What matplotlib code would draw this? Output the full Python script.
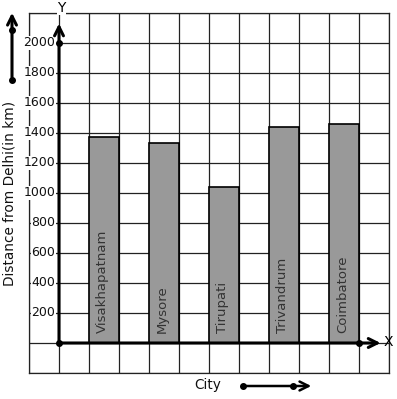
import numpy as np
import matplotlib
matplotlib.use("Agg")
import matplotlib.pyplot as plt

# data
cities = ["Visakhapatnam", "Mysore", "Tirupati", "Trivandrum", "Coimbatore"]
distances = [1370, 1330, 1040, 1440, 1460]
bar_pos = [1.5, 3.5, 5.5, 7.5, 9.5]
ytick_vals = [200, 400, 600, 800, 1000, 1200, 1400, 1600, 1800, 2000]

W, H = 397, 399
fig = plt.figure(figsize=(W / 100, H / 100), dpi=100)
ax = fig.add_axes([29 / W, 26 / H, 360 / W, 360 / H])
ax.set_xlim(-1, 11)
ax.set_ylim(-200, 2200)

grid_col = "#222222"
# square grid
for x in range(-1, 12):
    ax.axvline(x, color=grid_col, lw=0.9, zorder=1)
for y in range(-200, 2201, 200):
    ax.axhline(y, color=grid_col, lw=0.9, zorder=1)
for s in ax.spines.values():
    s.set_color(grid_col)
    s.set_linewidth(0.9)

ax.set_xticks([])
ax.set_yticks([])

# bars
ax.bar(bar_pos, distances, width=1.0, color="#999999", edgecolor="black",
       linewidth=1.2, zorder=3)
for x, name in zip(bar_pos, cities):
    ax.text(x - 0.05, 65, name, rotation=90, ha="center", va="bottom",
            fontsize=9.5, color="#333333", zorder=4)

# y tick labels with white background over the grid
for v in ytick_vals:
    ax.text(-0.12, v, str(v), ha="right", va="center", fontsize=9,
            color="#111111", zorder=4,
            bbox=dict(facecolor="white", edgecolor="none", pad=0.3))

# axes with arrows
arrow = dict(arrowstyle="->", lw=2.2, color="black", mutation_scale=16,
             shrinkA=0, shrinkB=0)
ax.annotate("", xy=(0, 2130), xytext=(0, 0), arrowprops=arrow, zorder=5)
ax.annotate("", xy=(10.72, 0), xytext=(0, 0), arrowprops=arrow, zorder=5)
ax.plot([0, 0, 10], [0, 2000, 0], "o", color="black", ms=4, zorder=6,
        clip_on=False)
ax.text(0.08, 2235, "Y", ha="center", va="center", fontsize=10, zorder=6,
        bbox=dict(facecolor="white", edgecolor="none", pad=0.5))
ax.text(10.97, 5, "X", ha="center", va="center", fontsize=10, zorder=6)

# y label and decorative arrow on the left
fig.text(10 / W, 1 - 193 / H, "Distance from Delhi(in km)", rotation=90,
         ha="center", va="center", fontsize=9.8, color="#111111")
fig.add_artist(matplotlib.patches.FancyArrowPatch(
    (12 / W, 1 - 80 / H), (12 / W, 1 - 10 / H), transform=fig.transFigure,
    arrowstyle="->", lw=2.2, color="black", mutation_scale=16))
fig.add_artist(matplotlib.lines.Line2D([12 / W, 12 / W], [1 - 30 / H, 1 - 80 / H],
                                       transform=fig.transFigure, ls="none",
                                       marker="o", ms=4, color="black"))

# x label and decorative arrow at the bottom
fig.text(208 / W, 1 - 385 / H, "City", ha="center", va="center",
         fontsize=9.8, color="#111111")
fig.add_artist(matplotlib.patches.FancyArrowPatch(
    (243 / W, 1 - 386 / H), (314 / W, 1 - 386 / H), transform=fig.transFigure,
    arrowstyle="->", lw=1.8, color="black", mutation_scale=16))
fig.add_artist(matplotlib.lines.Line2D([243 / W, 293 / W], [1 - 386 / H, 1 - 386 / H],
                                       transform=fig.transFigure, ls="none",
                                       marker="o", ms=4, color="black"))

fig.savefig("out.png", dpi=100, facecolor="white")
